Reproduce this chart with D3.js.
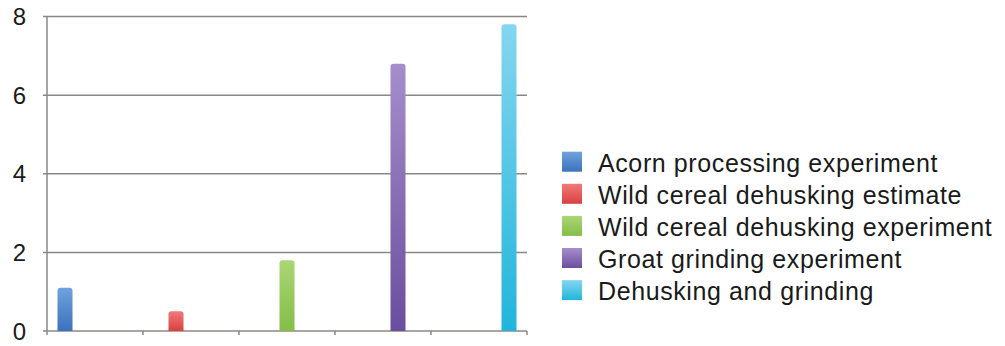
<!DOCTYPE html>
<html>
<head>
<meta charset="utf-8">
<script src="https://cdn.jsdelivr.net/npm/d3@7"></script>
<style>
  html, body { margin: 0; padding: 0; background: #fff; }
  svg { display: block; font-family: "Liberation Sans", Arial, Helvetica, sans-serif; }
</style>
</head>
<body>
<svg id="chart" width="1005" height="346"></svg>
<script>
// Processing-rate series, one bar per series, each in its own category slot
const categories = ["c1", "c2", "c3", "c4", "c5"];
const seriesNames = [
  "Acorn processing experiment",
  "Wild cereal dehusking estimate",
  "Wild cereal dehusking experiment",
  "Groat grinding experiment",
  "Dehusking and grinding"
];
const seriesValues = [1.1, 0.5, 1.8, 6.8, 7.8];
const yTicks = [0, 2, 4, 6, 8];
const colorsTop = ["#6fa3dc", "#f07a7a", "#abd676", "#a58ecb", "#84d6f0"];
const colorsBottom = ["#3a72bd", "#d9403f", "#84bd47", "#6a4e9f", "#22b5da"];

const svg = d3.select("#chart");
const margin = { left: 47, right: 478, top: 16.5, bottom: 15 };
const width = 1005, height = 346;

const x0 = d3.scaleBand().domain(categories).range([margin.left, width - margin.right]).padding(0);
const x1 = d3.scaleBand().domain(seriesNames).range([10.5, x0.bandwidth() - 10.5]).padding(0);
const y = d3.scaleLinear().domain([0, 8]).range([height - margin.bottom, margin.top]);

// gradients
const defs = svg.append("defs");
seriesNames.forEach((s, i) => {
  const g = defs.append("linearGradient").attr("id", "grad" + i)
    .attr("x1", 0).attr("y1", 0).attr("x2", 0).attr("y2", 1);
  g.append("stop").attr("offset", "0%").attr("stop-color", colorsTop[i]);
  g.append("stop").attr("offset", "100%").attr("stop-color", colorsBottom[i]);
});

// horizontal gridlines with outside ticks
const gridColor = "#8c8783";
svg.append("g")
  .selectAll("line")
  .data(yTicks)
  .join("line")
  .attr("x1", margin.left - 4)
  .attr("x2", width - margin.right)
  .attr("y1", d => y(d))
  .attr("y2", d => y(d))
  .attr("stroke", gridColor)
  .attr("stroke-width", 1.5);

// y axis line
svg.append("line")
  .attr("x1", margin.left).attr("x2", margin.left)
  .attr("y1", y(8)).attr("y2", y(0) + 4)
  .attr("stroke", gridColor).attr("stroke-width", 1.5);

// category tick marks on the baseline
const xTickPos = categories.map(c => x0(c) + x0.bandwidth());
svg.append("g")
  .selectAll("line")
  .data(xTickPos)
  .join("line")
  .attr("x1", d => d).attr("x2", d => d)
  .attr("y1", y(0)).attr("y2", y(0) + 4)
  .attr("stroke", gridColor).attr("stroke-width", 1.5);

// y tick labels
svg.append("g")
  .selectAll("text")
  .data(yTicks)
  .join("text")
  .attr("x", 26)
  .attr("y", d => y(d))
  .attr("dy", "0.36em")
  .attr("text-anchor", "end")
  .attr("font-size", 24)
  .attr("fill", "#1a1a1a")
  .text(d => d);

// bars with rounded tops
function barPath(xl, w, yt, yb, r) {
  r = Math.min(r, w / 2, (yb - yt));
  return `M${xl},${yb} L${xl},${yt + r} Q${xl},${yt} ${xl + r},${yt} L${xl + w - r},${yt} Q${xl + w},${yt} ${xl + w},${yt + r} L${xl + w},${yb} Z`;
}
svg.append("g")
  .selectAll("path")
  .data(seriesValues.map((v, i) => ({ v, i })))
  .join("path")
  .attr("d", d => {
    const xl = x0(categories[d.i]) + x1(seriesNames[d.i]);
    return barPath(xl, x1.bandwidth(), y(d.v), y(0), 3);
  })
  .attr("fill", d => `url(#grad${d.i})`);

// legend
const legend = svg.append("g");
const legX = 562, legBase0 = 171.7, legStep = 32.1;
seriesNames.forEach((s, i) => {
  const base = legBase0 + i * legStep;
  legend.append("rect")
    .attr("x", legX).attr("y", base - 20)
    .attr("width", 20).attr("height", 20)
    .attr("fill", `url(#grad${i})`);
  legend.append("text")
    .attr("x", 598).attr("y", base)
    .attr("font-size", 25)
    .attr("letter-spacing", 0.6)
    .attr("fill", "#1a1a1a")
    .text(s);
});
</script>
</body>
</html>
